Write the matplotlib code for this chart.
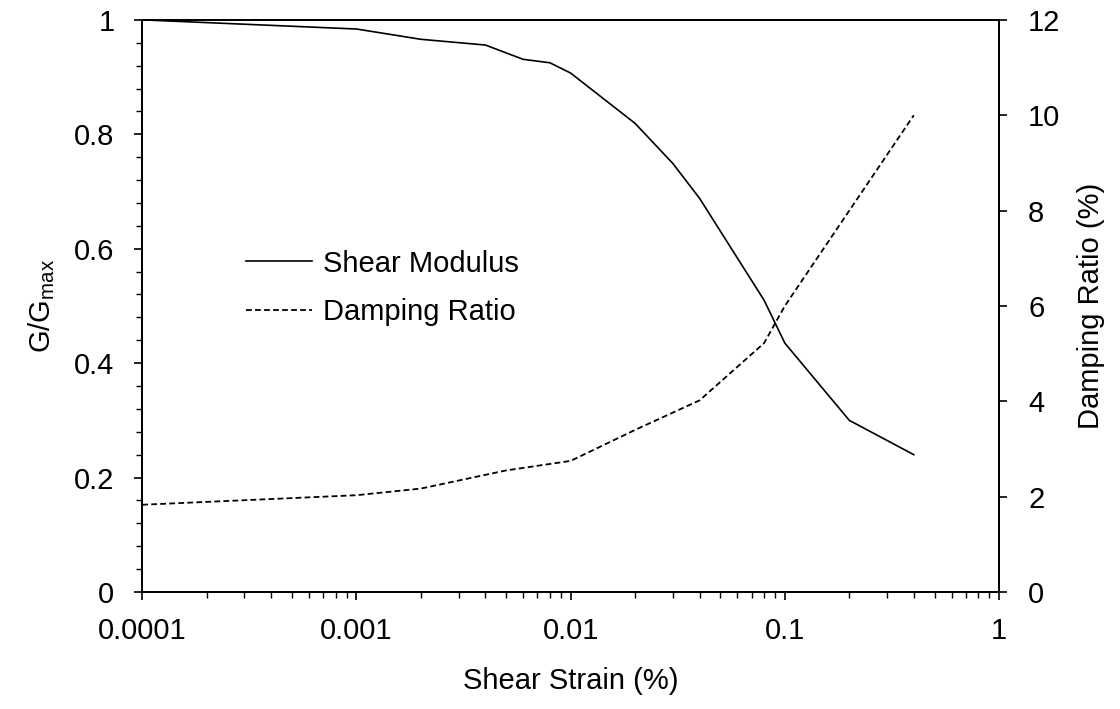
import numpy as np
import matplotlib
matplotlib.use('Agg')
import matplotlib.pyplot as plt
from matplotlib.ticker import MultipleLocator, FixedLocator, LogLocator, NullFormatter, NullLocator

# Data
strain_g = [0.0001, 0.001, 0.002, 0.004, 0.006, 0.008, 0.01, 0.02, 0.03, 0.04, 0.08, 0.1, 0.2, 0.4]
g_ratio = [1.0, 0.984, 0.966, 0.956, 0.931, 0.925, 0.907, 0.819, 0.749, 0.688, 0.510, 0.435, 0.300, 0.240]

strain_d = [0.0001, 0.001, 0.002, 0.005, 0.01, 0.02, 0.04, 0.08, 0.1, 0.2, 0.4]
damping = [1.83, 2.03, 2.17, 2.55, 2.75, 3.4, 4.02, 5.22, 6.0, 8.0, 10.0]

xticks = [0.0001, 0.001, 0.01, 0.1, 1]
xticklabels = ['0.0001', '0.001', '0.01', '0.1', '1']
yticks = [0, 0.2, 0.4, 0.6, 0.8, 1]
yticklabels = ['0', '0.2', '0.4', '0.6', '0.8', '1']

plt.rcParams['font.family'] = ['Liberation Sans', 'DejaVu Sans']
plt.rcParams['mathtext.fontset'] = 'custom'
plt.rcParams['mathtext.rm'] = 'Liberation Sans'
plt.rcParams['mathtext.it'] = 'Liberation Sans'
fs = 21

fig = plt.figure(figsize=(11.2, 7.09), dpi=100)
ax = fig.add_axes([0.127, 0.165, 0.765, 0.807])
ax2 = ax.twinx()

l1, = ax.plot(strain_g, g_ratio, color='black', lw=1.2, label='Shear Modulus')
l2, = ax2.plot(strain_d, damping, color='black', lw=1.3, dashes=(3.2, 1.8), label='Damping Ratio')

ax.set_xscale('log')
ax.set_xlim(0.0001, 1)
ax.set_ylim(0, 1)
ax2.set_ylim(0, 12)

ax.xaxis.set_major_locator(FixedLocator(xticks))
ax.set_xticklabels(xticklabels)
ax.xaxis.set_minor_locator(LogLocator(base=10, subs=np.arange(2, 10)))
ax.xaxis.set_minor_formatter(NullFormatter())

ax.yaxis.set_major_locator(FixedLocator(yticks))
ax.set_yticklabels(yticklabels)
ax.yaxis.set_minor_locator(MultipleLocator(0.04))
ax2.yaxis.set_major_locator(MultipleLocator(2))
ax2.yaxis.set_minor_locator(NullLocator())

for a in (ax, ax2):
    for s in a.spines.values():
        s.set_linewidth(1.4)
    a.tick_params(which='major', direction='out', length=6, width=1.2, labelsize=fs)
    a.tick_params(which='minor', direction='out', length=4, width=1.0)
ax.tick_params(axis='x', which='major', pad=12)
ax.tick_params(axis='y', which='major', pad=14)
ax2.tick_params(axis='y', which='major', pad=15)

ax.set_xlabel('Shear Strain (%)', fontsize=fs, labelpad=16)
ax.set_ylabel(r'G/G$_{\mathrm{max}}$', fontsize=fs, labelpad=12)
ax2.set_ylabel('Damping Ratio (%)', fontsize=fs, labelpad=12)

fig.legend(handles=[l1, l2], loc='center left',
           bbox_to_anchor=(246.0 / 1120, 1 - 288.0 / 709),
           frameon=False, fontsize=fs, handlelength=2.25, handletextpad=0.4,
           labelspacing=0.72, borderpad=0, borderaxespad=0)

fig.savefig('out.png', dpi=100)
